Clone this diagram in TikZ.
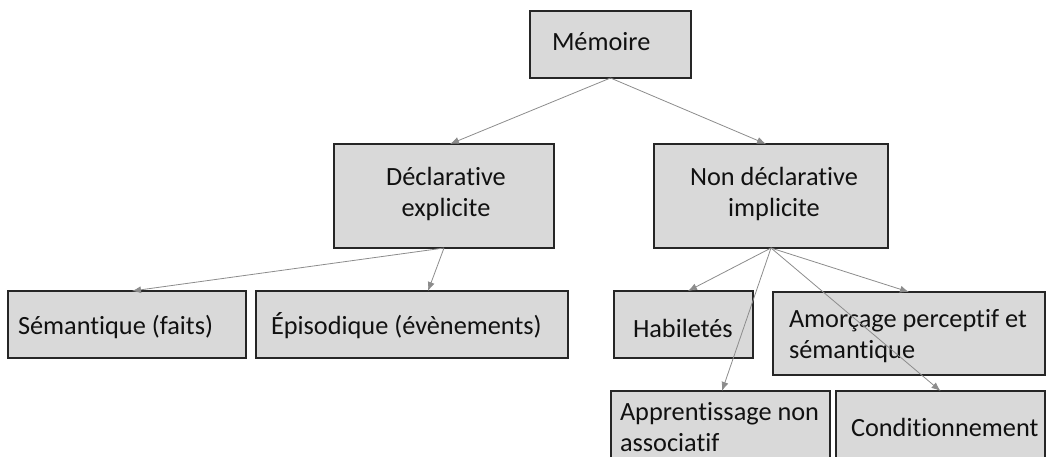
\documentclass[tikz,border=0pt]{standalone}
\usepackage{fontspec}
\setmainfont[Ligatures={NoCommon}]{Carlito}
\usetikzlibrary{arrows.meta}
\definecolor{boxfill}{HTML}{D9D9D9}
\definecolor{boxline}{HTML}{262626}
\definecolor{linkgray}{HTML}{8C8C8C}
\definecolor{ink}{HTML}{111111}
\tikzset{
  box/.style={draw=boxline, fill=boxfill, line width=1.2pt, inner sep=0pt, outer sep=0pt},
  txt/.style={inner sep=0pt, outer sep=0pt, text=ink, font=\fontsize{26.3}{31}\selectfont},
  link/.style={draw=linkgray, line width=0.8pt, -{Latex[length=9pt,width=7pt]}},
}
\begin{document}
\begin{tikzpicture}[x=1pt,y=-1pt]
\useasboundingbox (0,0) rectangle (1047,457);
\clip (0,0) rectangle (1047,457);

% boxes
\node[box, minimum width=161pt, minimum height=67pt]  (mem)  at (610.5,44.5) {};
\node[box, minimum width=220pt, minimum height=104pt] (decl) at (444,196) {};
\node[box, minimum width=234pt, minimum height=104pt] (ndecl) at (771,196) {};
\node[box, minimum width=238pt, minimum height=67pt]  (sem)  at (127,324.5) {};
\node[box, minimum width=312pt, minimum height=67pt]  (epi)  at (412,324.5) {};
\node[box, minimum width=139pt, minimum height=67pt]  (hab)  at (683.5,324.5) {};
\node[box, minimum width=272pt, minimum height=83pt]  (amo)  at (909,333.5) {};
\node[box, minimum width=219pt, minimum height=89pt]  (app)  at (720.5,435.5) {};
\node[box, minimum width=209pt, minimum height=89pt]  (cond) at (940.5,435.5) {};

% texts (multi-line nodes are placed by the baseline of their last line)
\node[txt, anchor=base west] (memT) at (552,51) {Mémoire};
\node[txt, anchor=base, align=center] (declT) at (446,217) {Déclarative\\explicite};
\node[txt, anchor=base, align=center] (ndeclT) at (774,217) {Non déclarative\\implicite};
\node[txt, anchor=base west] (semT) at (18,334) {Sémantique (faits)};
\node[txt, anchor=base west] (epiT) at (271,334) {Épisodique (évènements)};
\node[txt, anchor=base west] (habT) at (633,337) {Habiletés};
\node[txt, anchor=base west, align=left] (amoT) at (789,358) {Amorçage perceptif et\\sémantique};
\node[txt, anchor=base west, align=left] (appT) at (620,451) {Apprentissage non\\associatif};
\node[txt, anchor=base west] (condT) at (851,436) {Conditionnement};

% connectors
\draw[link] (mem.south) -- ([xshift=6pt]decl.north);
\draw[link] (mem.south) -- ([xshift=-5pt]ndecl.north);
\draw[link] (decl.south) -- ([xshift=5pt]sem.north);
\draw[link] (decl.south) -- ([xshift=16pt]epi.north);
\draw[link] (ndecl.south) -- ([xshift=4.5pt]hab.north);
\draw[link] (ndecl.south) -- (amo.north);
\draw[link] (ndecl.south) -- ([xshift=1.5pt]app.north);
\draw[link] (ndecl.south) -- (cond.north);
\end{tikzpicture}
\end{document}
